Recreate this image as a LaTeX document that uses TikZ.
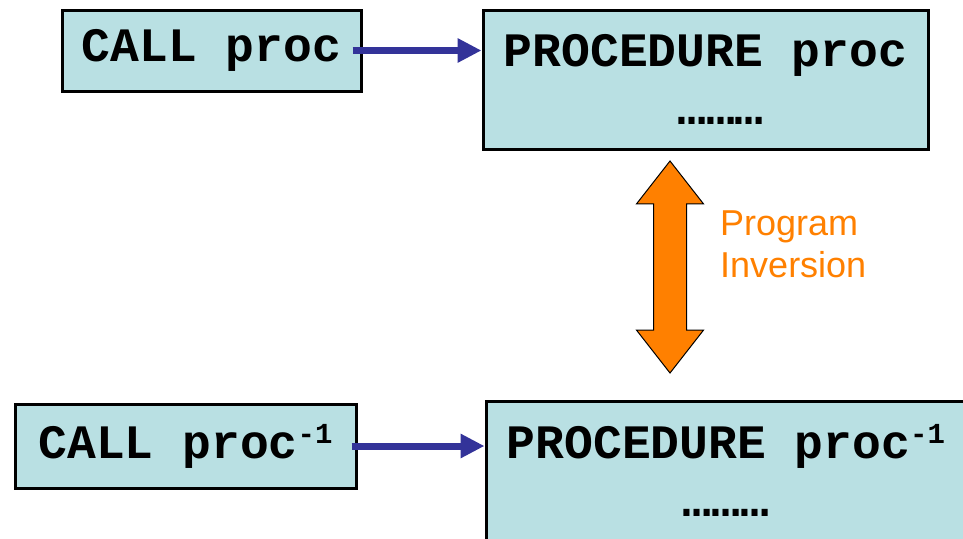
\documentclass[tikz,border=0pt]{standalone}
\usepackage{fontspec}
\setmonofont{Liberation Mono}
\setsansfont{Liberation Sans}
\usetikzlibrary{arrows.meta,shapes.arrows}
\definecolor{boxblue}{RGB}{185,224,227}
\definecolor{arrowblue}{RGB}{51,51,153}
\definecolor{invorange}{RGB}{255,128,0}
\tikzset{
   callbox/.style = { draw, line width=3pt, fill=boxblue, inner sep=0pt,
                      font=\fontsize{48}{58}\selectfont\ttfamily\bfseries },
   procbox/.style = { callbox, align=center },
 callarrow/.style = { line width=7pt, color=arrowblue,
                      -{Triangle[length=24pt, width=23pt]} },
  invarrow/.style = { double arrow, shape border rotate=90, draw, line width=1pt,
                      fill=invorange, inner sep=16pt, minimum height=212pt,
                      minimum width=66pt, double arrow head extend=17pt,
                      double arrow tip angle=76 },
  invlabel/.style = { font=\fontsize{36}{42}\selectfont\sffamily, color=invorange,
                      align=left, inner sep=0pt },
}
\newcommand*{\minusone}{\raisebox{15pt}{\fontsize{29}{29}\selectfont -1}}
\newcommand*{\dotrow}{………}

\begin{document}
\begin{tikzpicture}[x=1pt, y=-1pt]
  \clip (0,0) rectangle (963,538);
  % upper row
  \node [callbox, minimum width=299pt, minimum height=81pt]  (call)    at (211.5,50.5)
    {CALL proc};
  \node [procbox, minimum width=445pt, minimum height=139pt] (proc)    at (705.5,79.5)
    {PROCEDURE proc\\\hspace*{30pt}\dotrow};
  % lower row
  \node [callbox, minimum width=341pt, minimum height=84pt]  (callinv) at (185.5,446)
    {CALL proc\minusone};
  \node [procbox, minimum width=480pt, minimum height=139pt] (procinv) at (726,470.5)
    {PROCEDURE proc\minusone\\\dotrow};
  % inversion
  \node [invarrow] (inv) at (670,267) {};
  \node [invlabel, anchor=north west] (invtext) at (720,211) {Program\\Inversion};
  \draw [callarrow] ([xshift=-10pt]call.east)    -- (call.east -| proc.west);
  \draw [callarrow] ([xshift=-6pt]callinv.east)  -- (callinv.east -| procinv.west);
\end{tikzpicture}
\end{document}
